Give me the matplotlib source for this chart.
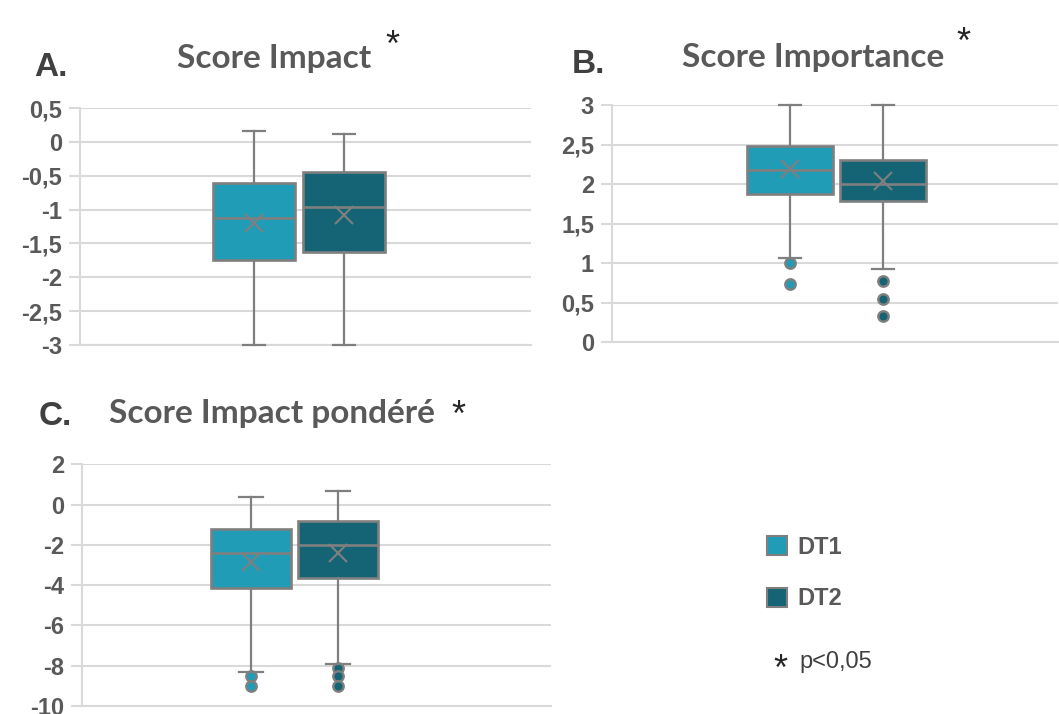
import numpy as np
import matplotlib
matplotlib.use("Agg")
import matplotlib.pyplot as plt
from matplotlib.patches import Patch
from matplotlib.ticker import FuncFormatter

# données (DT1, DT2)
groupes = ["DT1", "DT2"]
couleurs = ["#209cb6", "#146476"]

impact_whislo = [-3.0, -3.0]
impact_q1 = [-1.74, -1.62]
impact_med = [-1.12, -0.96]
impact_mean = [-1.20, -1.08]
impact_q3 = [-0.61, -0.44]
impact_whishi = [0.16, 0.12]
impact_fliers = [[], []]
impact_ticks = [-3, -2.5, -2, -1.5, -1, -0.5, 0, 0.5]

importance_whislo = [1.06, 0.92]
importance_q1 = [1.88, 1.78]
importance_med = [2.18, 2.0]
importance_mean = [2.19, 2.04]
importance_q3 = [2.48, 2.31]
importance_whishi = [3.0, 3.0]
importance_fliers = [[1.0, 0.74], [0.77, 0.54, 0.33]]
importance_ticks = [0, 0.5, 1, 1.5, 2, 2.5, 3]

pondere_whislo = [-8.3, -7.9]
pondere_q1 = [-4.14, -3.62]
pondere_med = [-2.4, -2.0]
pondere_mean = [-2.85, -2.4]
pondere_q3 = [-1.23, -0.81]
pondere_whishi = [0.38, 0.66]
pondere_fliers = [[-8.5, -9.0], [-8.1, -8.5, -9.0]]
pondere_ticks = [-10, -8, -6, -4, -2, 0, 2]

gris = "#7f7f7f"
grille = "#d9d9d9"
texte = "#595959"

plt.rcParams["font.family"] = ["Liberation Sans", "DejaVu Sans"]
plt.rcParams["font.weight"] = "bold"

fig = plt.figure(figsize=(10.59, 7.14), dpi=100)


def virgule(v, pos):
    return f"{v:g}".replace(".", ",")


def panneau(rect, whislo, q1, med, mean, q3, whishi, fliers, ticks, pos, largeur):
    ax = fig.add_axes(rect)
    stats = []
    for i in range(len(groupes)):
        stats.append(dict(label=groupes[i], whislo=whislo[i], q1=q1[i], med=med[i],
                          mean=mean[i], q3=q3[i], whishi=whishi[i], fliers=fliers[i]))
    bp = ax.bxp(stats, positions=pos, widths=largeur, patch_artist=True,
                showmeans=True, capwidths=0.05,
                boxprops=dict(edgecolor=gris, linewidth=1.9),
                whiskerprops=dict(color=gris, linewidth=1.6),
                capprops=dict(color=gris, linewidth=1.6),
                medianprops=dict(color=gris, linewidth=1.9),
                meanprops=dict(marker="x", markeredgecolor=gris, markersize=13,
                               markeredgewidth=1.5))
    for i, b in enumerate(bp["boxes"]):
        b.set_facecolor(couleurs[i])
    for i, f in enumerate(bp["fliers"]):
        f.set(marker="o", markerfacecolor=couleurs[i], markeredgecolor=gris,
              markersize=7.5, markeredgewidth=1.7)
    for art in bp["caps"] + bp["whiskers"]:
        art.set_clip_on(False)
        art.set_zorder(3)
    ax.set_xlim(0, 1)
    ax.set_ylim(ticks[0], ticks[-1])
    ax.set_yticks(ticks)
    ax.yaxis.set_major_formatter(FuncFormatter(virgule))
    ax.set_xticks([])
    ax.grid(axis="y", color=grille, linewidth=1.5)
    ax.set_axisbelow(True)
    for s in ["top", "right"]:
        ax.spines[s].set_visible(False)
    for s in ["left", "bottom"]:
        ax.spines[s].set_color(grille)
        ax.spines[s].set_linewidth(1.5)
    ax.tick_params(axis="y", length=8, width=1.5, color=grille, pad=5,
                   labelsize=17, labelcolor=texte)
    return ax


panneau([0.0755, 0.5168, 0.4259, 0.3319], impact_whislo, impact_q1, impact_med,
        impact_mean, impact_q3, impact_whishi, impact_fliers, impact_ticks,
        [0.386, 0.585], 0.182)
panneau([0.5779, 0.5210, 0.4211, 0.3319], importance_whislo, importance_q1,
        importance_med, importance_mean, importance_q3, importance_whishi,
        importance_fliers, importance_ticks, [0.399, 0.608], 0.192)
panneau([0.0774, 0.0112, 0.4429, 0.3385], pondere_whislo, pondere_q1, pondere_med,
        pondere_mean, pondere_q3, pondere_whishi, pondere_fliers, pondere_ticks,
        [0.360, 0.546], 0.171)

# titres
titre = dict(family="Lato", weight="bold", size=24, color=texte, ha="center", va="baseline")
fig.text(274 / 1059, 1 - 68 / 714, "Score Impact", **titre)
fig.text(813 / 1059, 1 - 67 / 714, "Score Importance", **titre)
fig.text(272 / 1059, 1 - 423 / 714, "Score Impact pondéré", **titre)

lettre = dict(weight="bold", size=24, color="#404040", ha="left", va="baseline")
fig.text(34 / 1059, 1 - 76 / 714, "A.", **lettre)
fig.text(572 / 1059, 1 - 73 / 714, "B.", **lettre)
fig.text(39 / 1059, 1 - 425 / 714, "C.", **lettre)

etoile = dict(weight="normal", size=26, color="#262626", ha="center", va="baseline")
fig.text(392 / 1059, 1 - 56 / 714, "*", **etoile)
fig.text(963 / 1059, 1 - 53 / 714, "*", **etoile)
fig.text(458 / 1059, 1 - 426 / 714, "*", **etoile)

# légende
poignees = [Patch(facecolor=couleurs[i], edgecolor=gris, linewidth=1.5, label=groupes[i])
            for i in range(len(groupes))]
leg = fig.legend(handles=poignees, loc="upper left", bbox_to_anchor=(0.7243, 0.2493),
                 frameon=False, borderpad=0, borderaxespad=0, handlelength=0.85,
                 handleheight=0.85, handletextpad=0.45, labelspacing=1.2,
                 prop=dict(weight="bold", size=17))
for t in leg.get_texts():
    t.set_color(texte)

fig.text(780 / 1059, 1 - 680 / 714, "*", weight="normal", size=26,
         color="#262626", ha="center", va="baseline")
fig.text(799 / 1059, 1 - 668 / 714, "p<0,05", weight="normal", size=17,
         color="#404040", ha="left", va="baseline")

fig.savefig("out.png", dpi=100)
